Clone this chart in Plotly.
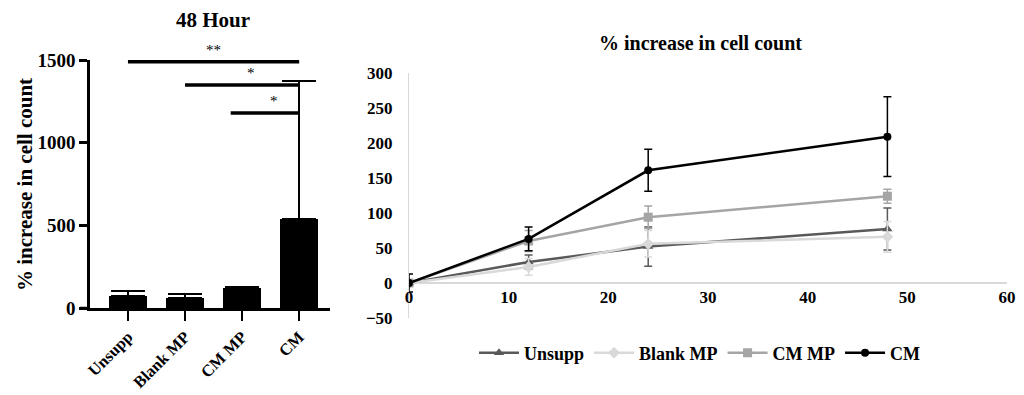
import plotly.graph_objects as go

# ---------------- data ----------------
bar_categories = ["Unsupp", "Blank MP", "CM MP", "CM"]
bar_values = [73, 60, 121, 538]
bar_err_up = [30, 25, 9, 835]

sig_labels = ["**", "*", "*"]
sig_start = [0, 1, 1.8]
sig_end = [3, 3, 3]
sig_y = [1490, 1349, 1180]

hours = [0, 12, 24, 48]
series_names = ["Unsupp", "Blank MP", "CM MP", "CM"]
unsupp = [0, 30, 52, 77]
unsupp_err = [0, 10, 28, 30]
blank_mp = [0, 23, 56, 66]
blank_mp_err = [0, 12, 19, 22]
cm_mp = [0, 60, 94, 124]
cm_mp_err = [0, 15, 16, 10]
cm = [0, 63, 161, 209]
cm_err = [13, 17, 30, 57]

line_y_ticks = [-50, 0, 50, 100, 150, 200, 250, 300]
line_x_ticks = [0, 10, 20, 30, 40, 50, 60]

# ---------------- styling ----------------
OFF = 8  # page body margin
W, H = 1024 - 2 * OFF, 395 - OFF
FONT = "Liberation Serif"

def px_x(p):
    return (p - OFF) / W

def px_y(p):
    return 1 - (p - OFF) / H

fig = go.Figure()

# left bar chart
xpos = list(range(len(bar_categories)))
fig.add_trace(go.Bar(
    x=xpos, y=bar_values, width=0.665,
    marker=dict(color="black", line=dict(width=0)),
    error_y=dict(type="data", symmetric=False, array=bar_err_up,
                 arrayminus=[0] * 4, color="black", thickness=1.5, width=17),
    showlegend=False, xaxis="x", yaxis="y",
))
for s0, s1, yy in zip(sig_start, sig_end, sig_y):
    fig.add_trace(go.Scatter(
        x=[s0, s1], y=[yy, yy], mode="lines",
        line=dict(color="black", width=3.5),
        showlegend=False, hoverinfo="skip", xaxis="x", yaxis="y",
    ))
for lab, s0, s1, yy in zip(sig_labels, sig_start, sig_end, sig_y):
    fig.add_annotation(
        x=(s0 + s1) / 2 + (0.0 if lab == "**" else 0.15), y=yy, xref="x", yref="y",
        text=lab, showarrow=False, yanchor="bottom", yshift=2,
        font=dict(family=FONT, size=15, color="black"),
    )

# right line chart
styles = [
    ("Unsupp", unsupp, unsupp_err, "#595959", "triangle-up", 9),
    ("Blank MP", blank_mp, blank_mp_err, "#d9d9d9", "diamond", 9),
    ("CM MP", cm_mp, cm_mp_err, "#a5a5a5", "square", 9),
    ("CM", cm, cm_err, "#000000", "circle", 8),
]
for name, vals, errs, col, sym, ms in styles:
    fig.add_trace(go.Scatter(
        x=hours, y=vals, name=name, mode="lines+markers",
        line=dict(color=col, width=2.5),
        marker=dict(color=col, symbol=sym, size=ms),
        error_y=dict(type="data", array=errs, color=col, thickness=1.5, width=4),
        xaxis="x2", yaxis="y2",
    ))

# left axes geometry
lx0, lx1 = px_x(90), px_x(330)
ly0, ly1 = px_y(308), px_y(60)
# right axes geometry
rx0, rx1 = px_x(409), px_x(1007)
ry0, ry1 = px_y(318), px_y(73)
zero_pos = ry0 + (ry1 - ry0) * 50 / 350

fig.update_layout(
    width=W, height=H,
    margin=dict(l=0, r=0, t=0, b=0, autoexpand=False),
    paper_bgcolor="white", plot_bgcolor="white",
    font=dict(family=FONT, color="black"),
    bargap=0,
    xaxis=dict(
        domain=[lx0, lx1], range=[-0.665, 3.54], anchor="y", automargin=False,
        tickmode="array", tickvals=xpos, ticktext=bar_categories,
        tickangle=-45, ticks="outside", ticklen=10, tickwidth=2, tickcolor="black",
        showline=True, linecolor="black", linewidth=2.5,
        showgrid=False, zeroline=False,
        tickfont=dict(family=FONT, size=16.5, color="black", weight="bold"),
    ),
    yaxis=dict(
        domain=[ly0, ly1], range=[0, 1500], anchor="x", automargin=False,
        tickvals=[0, 500, 1000, 1500],
        ticks="outside", ticklen=8, tickwidth=2.5, tickcolor="black",
        showline=True, linecolor="black", linewidth=2.5,
        showgrid=False, zeroline=False,
        tickfont=dict(family=FONT, size=19, color="black", weight="bold"),
    ),
    xaxis2=dict(
        domain=[rx0, rx1], range=[0, 60], anchor="free", position=zero_pos, automargin=False,
        tickvals=line_x_ticks, ticks="", showline=False, ticklabeloverflow="allow",
        showgrid=False, zeroline=False, ticklabelstandoff=2,
        tickfont=dict(family=FONT, size=17, color="black", weight="bold"),
    ),
    yaxis2=dict(
        domain=[ry0, ry1], range=[-50, 300], anchor="x2", automargin=False,
        tickvals=line_y_ticks, ticks="", ticklabelstandoff=12,
        showline=True, linecolor="#d9d9d9", linewidth=1,
        showgrid=False, zeroline=True, zerolinecolor="#d9d9d9", zerolinewidth=1.5,
        tickfont=dict(family=FONT, size=17, color="black", weight="bold"),
    ),
    legend=dict(
        orientation="h", x=px_x(700), y=px_y(353), xanchor="center", yanchor="middle",
        font=dict(family=FONT, size=18, color="black", weight="bold"),
        itemwidth=40, tracegroupgap=0, bgcolor="rgba(0,0,0,0)",
    ),
    annotations=list(fig.layout.annotations) + [
        dict(text="48 Hour", x=px_x(213), y=px_y(20), xref="paper", yref="paper",
             showarrow=False, xanchor="center", yanchor="middle",
             font=dict(family=FONT, size=21, color="black", weight="bold")),
        dict(text="% increase in cell count", x=px_x(700), y=px_y(43), xref="paper", yref="paper",
             showarrow=False, xanchor="center", yanchor="middle",
             font=dict(family=FONT, size=20, color="black", weight="bold")),
        dict(text="% increase in cell count", x=px_x(25), y=px_y(185), xref="paper", yref="paper",
             showarrow=False, xanchor="center", yanchor="middle", textangle=-90,
             font=dict(family=FONT, size=21, color="black", weight="bold")),
    ],
    shapes=[
        dict(type="line", xref="paper", yref="paper", x0=px_x(80), x1=lx0,
             y0=ly0, y1=ly0, line=dict(color="black", width=2.5)),
    ],
)

fig.write_html("out.html")
